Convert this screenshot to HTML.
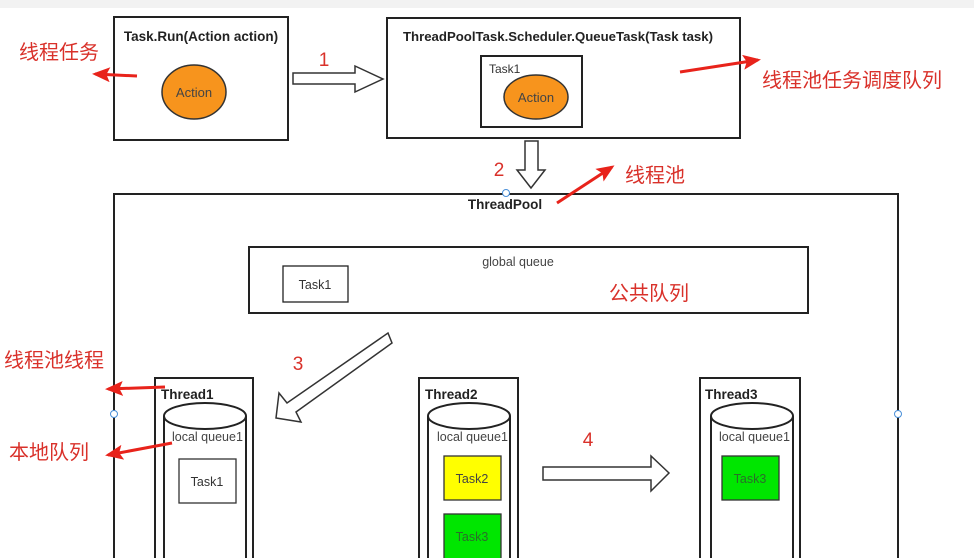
<!DOCTYPE html>
<html><head><meta charset="utf-8"><style>
html,body{margin:0;padding:0;background:#fff;}
svg{display:block;}
text{font-family:"Liberation Sans","Noto Sans CJK SC",sans-serif;}
</style></head><body>
<svg width="974" height="558" viewBox="0 0 974 558" xmlns="http://www.w3.org/2000/svg">
<defs>
<marker id="rh" markerWidth="6" markerHeight="5" refX="5" refY="2.5" orient="auto" markerUnits="strokeWidth">
<path d="M0,0 L6,2.5 L0,5 L1.2,2.5 Z" fill="#e8231b"/>
</marker>
</defs>
<rect x="0" y="0" width="974" height="8" fill="#f2f2f2"/>
<g stroke="#222" stroke-width="2" fill="none">
<rect x="114" y="17" width="174" height="123" fill="#fff"/>
<rect x="387" y="18" width="353" height="120" fill="#fff"/>
<rect x="481" y="56" width="101" height="71"/>
<rect x="114" y="194" width="784" height="370"/>
<rect x="249" y="247" width="559" height="66"/>
<rect x="283" y="266" width="65" height="36" stroke-width="1.3"/>
<rect x="155" y="378" width="98" height="190"/>
<rect x="419" y="378" width="99" height="190"/>
<rect x="700" y="378" width="100" height="190"/>
</g>
<ellipse cx="194" cy="92" rx="32" ry="27" fill="#f7941d" stroke="#333" stroke-width="1.5"/>
<ellipse cx="536" cy="97" rx="32" ry="22" fill="#f7941d" stroke="#333" stroke-width="1.5"/>
<text x="201" y="41" font-size="13.5" font-weight="bold" text-anchor="middle" fill="#222">Task.Run(Action action)</text>
<text x="194" y="97" font-size="13" text-anchor="middle" fill="#444">Action</text>
<text x="558" y="41" font-size="13.2" font-weight="bold" text-anchor="middle" fill="#222">ThreadPoolTask.Scheduler.QueueTask(Task task)</text>
<text x="489" y="73" font-size="12" fill="#333">Task1</text>
<text x="536" y="102" font-size="13" text-anchor="middle" fill="#444">Action</text>
<path d="M293,73 L355,73 L355,66 L383,79 L355,92 L355,84 L293,84 Z" fill="#fff" stroke="#333" stroke-width="1.5"/>
<text x="324" y="66" font-size="19" fill="#d9312a" text-anchor="middle">1</text>
<path d="M525,141 L538,141 L538,170 L545,170 L531,188 L517,170 L525,170 Z" fill="#fff" stroke="#333" stroke-width="1.5"/>
<text x="499" y="176" font-size="19" fill="#d9312a" text-anchor="middle">2</text>
<text x="505" y="209" font-size="13.5" font-weight="bold" text-anchor="middle" fill="#222">ThreadPool</text>
<circle cx="506" cy="193" r="3.5" fill="#fff" stroke="#4a90d9"/>
<circle cx="114" cy="414" r="3.5" fill="#fff" stroke="#4a90d9"/>
<circle cx="898" cy="414" r="3.5" fill="#fff" stroke="#4a90d9"/>
<text x="518" y="266" font-size="12.5" text-anchor="middle" fill="#444">global queue</text>
<text x="315" y="289" font-size="12.5" text-anchor="middle" fill="#333">Task1</text>
<text x="609" y="300" font-size="20" fill="#d9312a">公共队列</text>
<path d="M388,333 L392,343 L296,412 L301,422 L276,418 L279,393 L287,403 Z" fill="#fff" stroke="#333" stroke-width="1.5"/>
<text x="298" y="370" font-size="19" fill="#d9312a" text-anchor="middle">3</text>
<path d="M543,467 L651,467 L651,456 L669,473 L651,491 L651,480 L543,480 Z" fill="#fff" stroke="#333" stroke-width="1.5"/>
<text x="588" y="446" font-size="19" fill="#d9312a" text-anchor="middle">4</text>
<g stroke="#222" stroke-width="2" fill="#fff">
<path d="M164,416 L164,568 L246,568 L246,416"/>
<ellipse cx="205" cy="416" rx="41" ry="13"/>
<path d="M428,416 L428,568 L510,568 L510,416"/>
<ellipse cx="469" cy="416" rx="41" ry="13"/>
<path d="M711,416 L711,568 L793,568 L793,416"/>
<ellipse cx="752" cy="416" rx="41" ry="13"/>
</g>
<g font-size="13.5" font-weight="bold" fill="#222">
<text x="161" y="399">Thread1</text>
<text x="425" y="399">Thread2</text>
<text x="705" y="399">Thread3</text>
</g>
<g font-size="12.5" fill="#444">
<text x="172" y="441">local queue1</text>
<text x="437" y="441">local queue1</text>
<text x="719" y="441">local queue1</text>
</g>
<rect x="179" y="459" width="57" height="44" fill="#fff" stroke="#333" stroke-width="1.3"/>
<text x="207" y="486" font-size="12.5" text-anchor="middle" fill="#333">Task1</text>
<rect x="444" y="456" width="57" height="44" fill="#ffff00" stroke="#333" stroke-width="1.3"/>
<text x="472" y="483" font-size="12.5" text-anchor="middle" fill="#444">Task2</text>
<rect x="444" y="514" width="57" height="50" fill="#00e600" stroke="#333" stroke-width="1.3"/>
<text x="472" y="541" font-size="12.5" text-anchor="middle" fill="#2a6e2a">Task3</text>
<rect x="722" y="456" width="57" height="44" fill="#00e600" stroke="#333" stroke-width="1.3"/>
<text x="750" y="483" font-size="12.5" text-anchor="middle" fill="#2a6e2a">Task3</text>
<g font-size="20" fill="#d9312a">
<text x="19" y="59">线程任务</text>
<text x="762" y="87">线程池任务调度队列</text>
<text x="625" y="182">线程池</text>
<text x="4" y="367">线程池线程</text>
<text x="9" y="459">本地队列</text>
</g>
<g stroke="#e8231b" stroke-width="3" fill="none" marker-end="url(#rh)">
<line x1="137" y1="76" x2="95" y2="74"/>
<line x1="680" y1="72" x2="758" y2="60"/>
<line x1="557" y1="203" x2="612" y2="167"/>
<line x1="165" y1="387" x2="108" y2="389"/>
<line x1="172" y1="443" x2="108" y2="455"/>
</g>
</svg>
</body></html>
